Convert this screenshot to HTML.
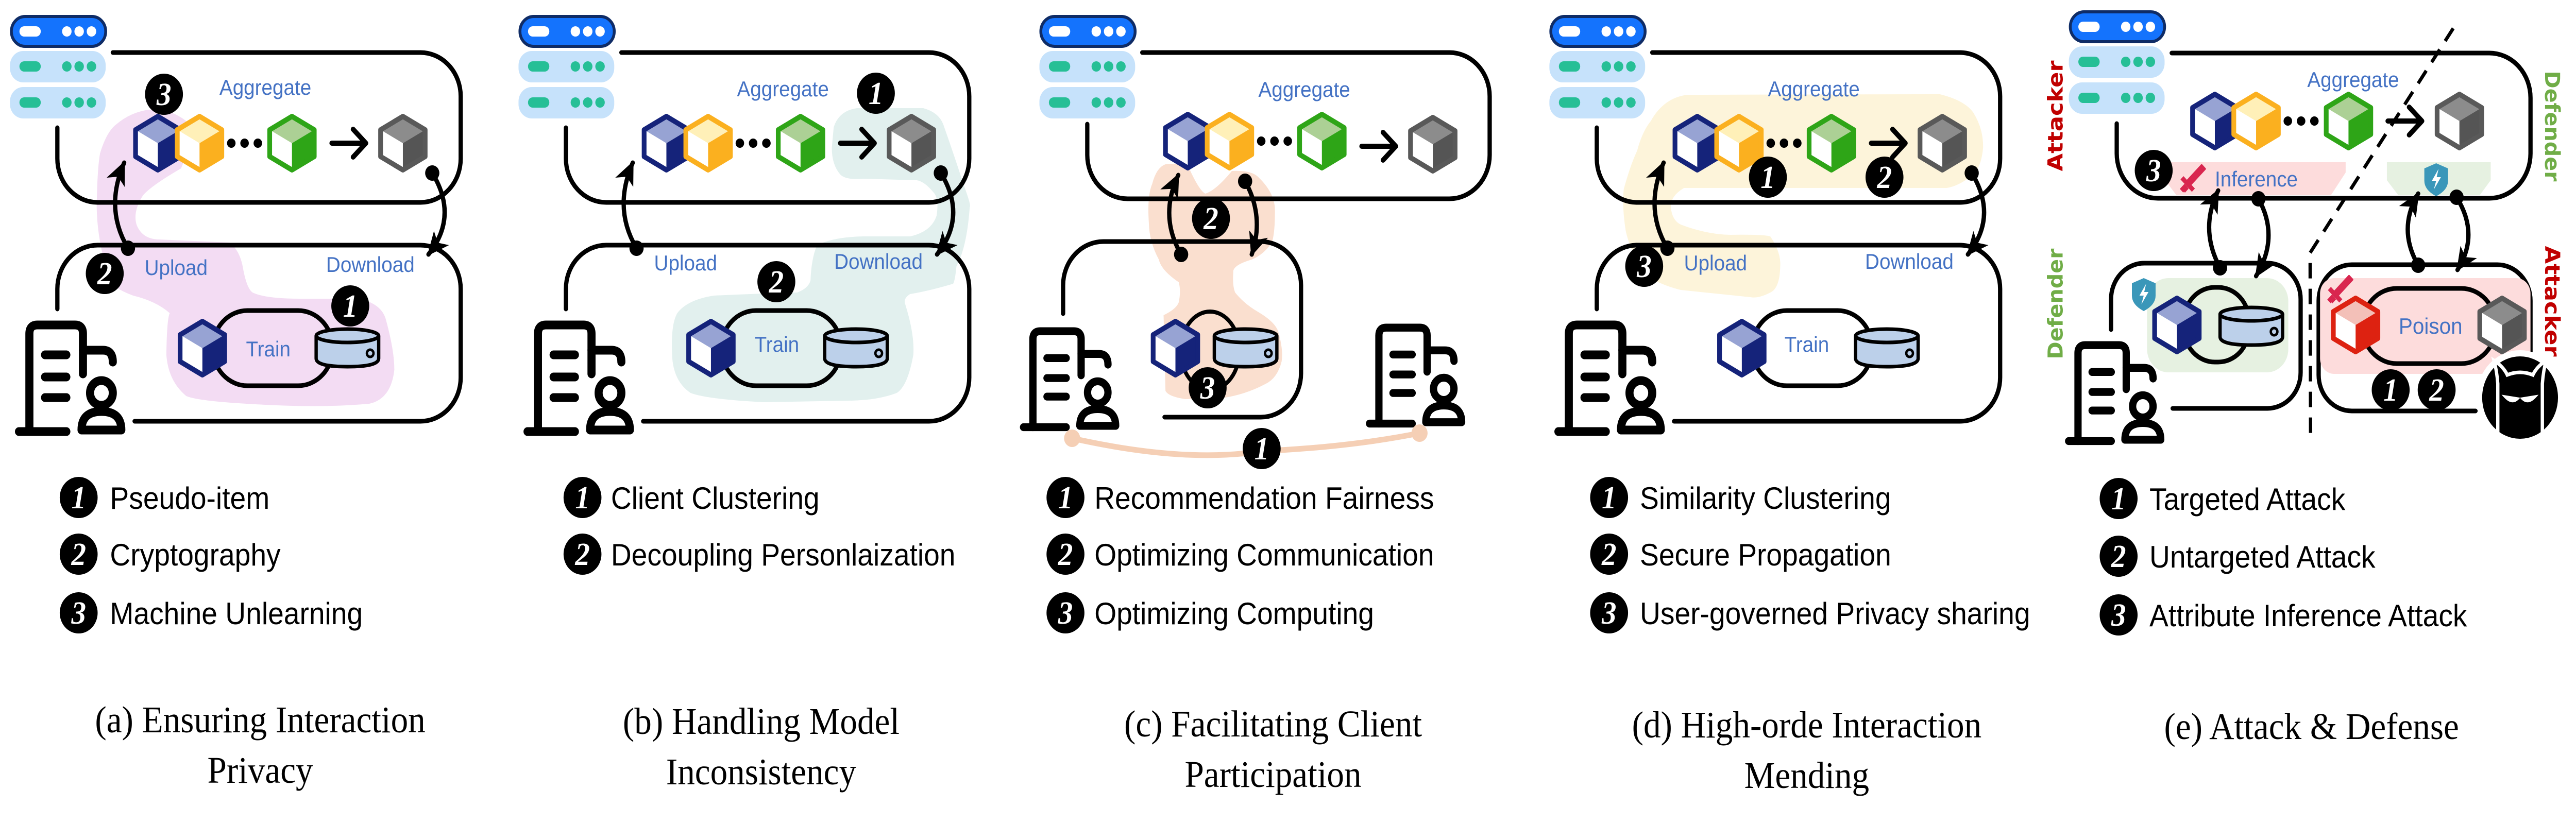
<!DOCTYPE html>
<html><head><meta charset="utf-8"><style>
html,body{margin:0;padding:0;background:#fff;width:100%;height:100%;overflow:hidden;}
svg{display:block;width:100vw;height:100vh;}
.lbl{font-family:"Liberation Sans",sans-serif;font-size:42px;fill:#4472c4;}
.leg{font-family:"Liberation Sans",sans-serif;font-size:60px;fill:#000;}
.cap{font-family:"Liberation Serif",serif;font-size:73px;fill:#000;}
.bn{font-family:"Liberation Serif",serif;font-weight:bold;font-style:italic;font-size:62px;fill:#fff;text-anchor:middle;}
.ln{fill:none;stroke:#000;stroke-width:9;stroke-linecap:round;}
</style></head><body>
<svg viewBox="0 0 5435 1600" preserveAspectRatio="none" xmlns="http://www.w3.org/2000/svg">
<defs>
<marker id="ah" markerUnits="userSpaceOnUse" markerWidth="46" markerHeight="42" viewBox="0 0 46 42" refX="42" refY="21" orient="auto">
<path d="M0,0 L46,21 L0,42 L12,21Z" fill="#000"/></marker>
<path id="hex" d="M0,-52 L47,-26 L47,26 L0,52 L-47,26 L-47,-26Z"/>
<g id="cN"><use href="#hex" fill="#fff"/><path d="M0,-52 L47,-26 L0,0 L-47,-26Z" fill="#97a3d3"/><path d="M47,-26 L47,26 L0,52 L0,0Z" fill="#15237a"/><use href="#hex" fill="none" stroke="#15237a" stroke-width="10" stroke-linejoin="round"/></g>
<g id="cO"><use href="#hex" fill="#fff"/><path d="M0,-52 L47,-26 L0,0 L-47,-26Z" fill="#fff0b8"/><path d="M47,-26 L47,26 L0,52 L0,0Z" fill="#fbb01f"/><use href="#hex" fill="none" stroke="#fbb01f" stroke-width="10" stroke-linejoin="round"/></g>
<g id="cG"><use href="#hex" fill="#fff"/><path d="M0,-52 L47,-26 L0,0 L-47,-26Z" fill="#acd095"/><path d="M47,-26 L47,26 L0,52 L0,0Z" fill="#2ea517"/><use href="#hex" fill="none" stroke="#2ea517" stroke-width="10" stroke-linejoin="round"/></g>
<g id="cY"><use href="#hex" fill="#fff"/><path d="M0,-52 L47,-26 L0,0 L-47,-26Z" fill="#8c8c8c"/><path d="M47,-26 L47,26 L0,52 L0,0Z" fill="#555"/><use href="#hex" fill="none" stroke="#595959" stroke-width="10" stroke-linejoin="round"/></g>
<g id="cR"><use href="#hex" fill="#fff"/><path d="M0,-52 L47,-26 L0,0 L-47,-26Z" fill="#f3c0b8"/><path d="M47,-26 L47,26 L0,52 L0,0Z" fill="#dd2211"/><use href="#hex" fill="none" stroke="#dd2211" stroke-width="10" stroke-linejoin="round"/></g>
<g id="srv">
<rect x="3" y="3" width="199" height="58" rx="29" fill="#1473fd" stroke="#0f2c66" stroke-width="6"/>
<rect x="20" y="22" width="45" height="20" rx="10" fill="#fff"/><circle cx="120" cy="32" r="10" fill="#fff"/><circle cx="146" cy="32" r="10" fill="#fff"/><circle cx="172" cy="32" r="10" fill="#fff"/>
<rect x="0" y="70" width="202" height="61" rx="28" fill="#c6e2fb"/>
<rect x="20" y="90" width="45" height="20" rx="10" fill="#26bf96"/><circle cx="120" cy="100" r="10" fill="#26bf96"/><circle cx="146" cy="100" r="10" fill="#26bf96"/><circle cx="172" cy="100" r="10" fill="#26bf96"/>
<rect x="0" y="140" width="202" height="61" rx="28" fill="#c6e2fb"/>
<rect x="20" y="160" width="45" height="20" rx="10" fill="#26bf96"/><circle cx="120" cy="170" r="10" fill="#26bf96"/><circle cx="146" cy="170" r="10" fill="#26bf96"/><circle cx="172" cy="170" r="10" fill="#26bf96"/>
</g>
<g id="usr" fill="none" stroke="#000" stroke-width="17" stroke-linecap="round" stroke-linejoin="round">
<path d="M27,215 L27,25 Q27,8 44,8 L123,8 Q140,8 140,25 L140,103"/>
<path d="M140,57 L182,57 Q203,57 203,80"/>
<path d="M5,215 L105,215"/>
<path d="M60,66 L105,66 M60,109 L105,109 M60,149 L105,149"/>
<circle cx="179" cy="140" r="24"/>
<path d="M137,212 Q137,176 179,176 Q221,176 221,212 Z"/>
</g>
<g id="db" stroke="#000" stroke-width="7" fill="#bcd0ea">
<path d="M4,16 L4,60 Q4,76 70,76 Q136,76 136,60 L136,16"/>
<ellipse cx="70" cy="16" rx="66" ry="13"/>
<circle cx="118" cy="50" r="7" fill="none" stroke-width="5"/>
</g>
<g id="chev"><path d="M0,0 L70,0 M45,-27 L72,0 L45,27" fill="none" stroke="#000" stroke-width="10" stroke-linecap="round" stroke-linejoin="round"/></g>
<g id="dots"><circle cx="0" cy="0" r="9"/><circle cx="28" cy="0" r="9"/><circle cx="56" cy="0" r="9"/></g>
<g id="sword" fill="#d9264f"><g transform="rotate(45)"><rect x="-7" y="-34" width="14" height="46" rx="2"/><rect x="-17" y="10" width="34" height="9"/><rect x="-5" y="19" width="10" height="14"/></g><rect x="-22" y="14" width="11" height="11" transform="rotate(45 -16 20)"/></g>
<g id="shield"><path d="M0,-30 L25,-20 L25,4 Q25,22 0,34 Q-25,22 -25,4 L-25,-20Z" fill="#3a97b9"/><path d="M5,-19 L-9,4 L0,4 L-5,21 L10,-3 L1,-3Z" fill="#fff"/></g>
</defs>

<!-- ============ PANEL A ============ -->
<path d="M302,215 Q350,205 393,235 Q400,290 382,327 Q320,360 302,379 Q280,410 288,436 Q300,465 337,465 L484,471 Q505,485 512,517 Q520,560 533,568 Q560,580 632,580 L758,580 Q805,590 814,620 Q832,680 832,718 Q825,775 779,784 Q680,792 561,786 Q420,780 393,769 Q355,740 351,689 Q352,620 358,608 Q330,585 281,574 Q240,560 232,545 Q205,470 204,402 Q205,330 211,298 Q225,255 246,241 Q270,222 302,215Z" fill="#f3dcf3"/>
<g id="baseA">
<use href="#srv" x="21" y="29"/>
<path class="ln" d="M238,102 L887,102 A85,85 0 0 1 972,187 L972,308 A85,85 0 0 1 887,393 L206,393 A85,85 0 0 1 121,308 L121,248"/>
<path class="ln" d="M121,600 L121,561 A85,85 0 0 1 206,476 L887,476 A85,85 0 0 1 972,561 L972,733 A85,85 0 0 1 887,818 L284,818"/>
<use href="#cN" x="333" y="278"/><use href="#cO" x="421" y="278"/><use href="#dots" x="488" y="278"/><use href="#cG" x="616" y="278"/>
<use href="#chev" x="700" y="278"/><use href="#cY" x="850" y="278"/>
<rect x="449" y="603" width="253" height="146" rx="73" fill="none" stroke="#000" stroke-width="9"/>
<use href="#cN" x="427" y="676"/><use href="#db" x="663" y="636"/>
<use href="#usr" x="35" y="623"/>
<circle cx="270" cy="482" r="15"/><path class="ln" d="M270,482 Q220,405 262,316" marker-end="url(#ah)"/>
<circle cx="912" cy="336" r="15"/><path class="ln" d="M912,336 Q968,420 904,494" marker-end="url(#ah)"/>
</g>
<text class="lbl" x="463" y="184">Aggregate</text>
<text class="lbl" x="305" y="534">Upload</text>
<text class="lbl" x="688" y="528">Download</text>
<text class="lbl" x="519" y="692">Train</text>
<circle cx="346" cy="183" r="40"/><text class="bn" x="346" y="204">3</text>
<circle cx="221" cy="531" r="40"/><text class="bn" x="221" y="552">2</text>
<circle cx="739" cy="594" r="40"/><text class="bn" x="739" y="615">1</text>

<!-- ============ PANEL B ============ -->
<path d="M1759,247 Q1770,215 1808,210 L1948,210 Q1980,218 1990,241 Q2020,320 2032,356 Q2050,400 2046,402 Q2040,480 2018,517 Q2015,545 2011,551 Q1960,565 1920,571 Q1905,580 1910,591 Q1930,650 1927,689 Q1915,750 1892,763 Q1850,778 1787,778 L1611,781 Q1490,775 1457,763 Q1420,740 1418,689 Q1415,630 1429,608 Q1450,582 1506,574 Q1600,570 1682,568 Q1705,560 1710,545 Q1712,500 1724,476 Q1760,460 1822,459 L1920,459 Q1965,450 1976,419 Q1982,385 1969,373 Q1950,352 1934,350 L1822,347 Q1785,350 1773,339 Q1755,320 1755,287 Z" fill="#e2f0ee"/>
<use href="#baseA" x="1073" y="0"/>
<text class="lbl" x="1555" y="187">Aggregate</text>
<text class="lbl" x="1380" y="525">Upload</text>
<text class="lbl" x="1760" y="522">Download</text>
<text class="lbl" x="1592" y="683">Train</text>
<circle cx="1848" cy="181" r="40"/><text class="bn" x="1848" y="202">1</text>
<circle cx="1638" cy="547" r="40"/><text class="bn" x="1638" y="568">2</text>

<!-- ============ PANEL C ============ -->
<path d="M2459,319 Q2495,315 2508,325 Q2530,370 2543,376 Q2565,370 2599,332 Q2640,330 2655,344 Q2690,375 2690,408 Q2690,455 2683,472 Q2665,495 2641,504 Q2600,515 2602,529 Q2600,555 2606,568 Q2625,590 2655,606 Q2690,625 2697,644 Q2708,680 2704,702 Q2695,735 2669,746 Q2630,765 2585,772 L2501,775 Q2465,770 2459,759 L2455,612 Q2482,600 2487,587 Q2492,565 2487,548 Q2450,525 2445,504 Q2425,470 2424,434 Q2420,380 2431,357 Q2440,325 2459,319Z" fill="#fadfcf"/>
<use href="#srv" x="2193" y="29"/>
<path class="ln" d="M2410,102 L3058,102 A85,85 0 0 1 3143,187 L3143,301 A85,85 0 0 1 3058,386 L2379,386 A85,85 0 0 1 2294,301 L2294,241"/>
<path class="ln" d="M2243,609 L2243,554 A85,85 0 0 1 2328,469 L2660,469 A85,85 0 0 1 2745,554 L2745,725 A85,85 0 0 1 2660,810 L2457,810"/>
<use href="#cN" x="2506" y="274"/><use href="#cO" x="2594" y="274"/><use href="#dots" x="2661" y="274"/><use href="#cG" x="2789" y="274"/>
<use href="#chev" x="2873" y="284"/><use href="#cY" x="3023" y="280"/>
<text class="lbl" x="2655" y="188">Aggregate</text>
<ellipse cx="2553" cy="681" rx="62" ry="76" fill="none" stroke="#000" stroke-width="8"/>
<use href="#cN" x="2480" y="676"/><use href="#db" x="2558" y="636"/>
<circle cx="2492" cy="494" r="15"/><path class="ln" d="M2492,494 Q2445,420 2486,340" marker-end="url(#ah)"/>
<circle cx="2627" cy="352" r="15"/><path class="ln" d="M2627,352 Q2668,420 2641,494" marker-end="url(#ah)"/>
<circle cx="2555" cy="424" r="40"/><text class="bn" x="2555" y="445">2</text>
<circle cx="2548" cy="753" r="40"/><text class="bn" x="2548" y="774">3</text>
<use href="#usr" x="2155" y="636" transform="translate(2155,636) scale(0.9) translate(-2155,-636)"/>
<use href="#usr" x="2885" y="629" transform="translate(2885,629) scale(0.9) translate(-2885,-629)"/>
<path d="M2262,851 Q2500,900 2662,876 Q2850,868 2995,841" fill="none" stroke="#f5cfb5" stroke-width="11"/>
<circle cx="2262" cy="851" r="17" fill="#f5cfb5"/><circle cx="2995" cy="841" r="17" fill="#f5cfb5"/>
<circle cx="2662" cy="871" r="40"/><text class="bn" x="2662" y="892">1</text>

<!-- ============ PANEL D ============ -->
<path d="M3483,235 Q3510,190 3560,184 L4093,183 Q4145,195 4163,218 Q4185,250 4184,287 Q4180,330 4156,344 Q4130,362 4107,365 L3553,365 Q3525,380 3525,402 Q3528,428 3546,436 Q3600,455 3651,456 Q3720,455 3735,459 Q3758,490 3756,517 Q3755,560 3735,568 Q3710,580 3693,577 L3546,563 Q3490,550 3469,528 Q3440,490 3430,448 Q3422,400 3426,367 Q3440,320 3454,293 Q3465,255 3483,235Z" fill="#fdf4da"/>
<use href="#baseA" x="3248" y="0"/>
<text class="lbl" x="3730" y="187">Aggregate</text>
<text class="lbl" x="3553" y="525">Upload</text>
<text class="lbl" x="3935" y="522">Download</text>
<text class="lbl" x="3765" y="683">Train</text>
<circle cx="3730" cy="344" r="40"/><text class="bn" x="3730" y="365">1</text>
<circle cx="3976" cy="344" r="40"/><text class="bn" x="3976" y="365">2</text>
<circle cx="3469" cy="517" r="40"/><text class="bn" x="3469" y="538">3</text>

<!-- ============ PANEL E ============ -->
<use href="#srv" x="4365" y="20"/>
<path class="ln" d="M4582,103 L5252,103 A87,87 0 0 1 5339,190 L5339,298 A87,87 0 0 1 5252,385 L4553,385 A87,87 0 0 1 4466,298 L4466,240"/>
<path d="M4568,315 L4949,315 L4949,335 L4918,379 L4592,379 L4568,350Z" fill="#fddcdc"/>
<path d="M5036,315 L5255,315 L5255,350 L5232,379 L5060,379 L5036,350Z" fill="#e6f1e1"/>
<text class="lbl" x="4868" y="169">Aggregate</text>
<use href="#cN" x="4673" y="235"/><use href="#cO" x="4760" y="235"/><use href="#dots" x="4827" y="235"/><use href="#cG" x="4955" y="235"/>
<use href="#chev" x="5038" y="235"/><use href="#cY" x="5189" y="235"/>
<circle cx="4544" cy="331" r="40"/><text class="bn" x="4544" y="352">3</text>
<use href="#sword" x="4626" y="347"/>
<text class="lbl" x="4673" y="362">Inference</text>
<use href="#shield" x="5140" y="347"/>
<path d="M5176,55 L4874,491 L4875,844" fill="none" stroke="#000" stroke-width="7" stroke-dasharray="30 20"/>
<path class="ln" d="M4454,640 L4454,581 A70,70 0 0 1 4524,511 L4784,511 A70,70 0 0 1 4854,581 L4854,723 A70,70 0 0 1 4784,793 L4584,793"/>
<rect x="4530" y="540" width="298" height="183" rx="45" fill="#e6f1e1"/>
<rect x="4608" y="558" width="137" height="145" rx="65" fill="none" stroke="#000" stroke-width="9"/>
<use href="#cN" x="4593" y="631"/><use href="#db" x="4680" y="594"/>
<use href="#shield" x="4523" y="570"/>
<use href="#usr" x="4360" y="663" transform="translate(4360,663) scale(0.9) translate(-4360,-663)"/>
<path class="ln" d="M5223,798 L4962,798 A70,70 0 0 1 4892,728 L4892,584 A70,70 0 0 1 4962,514 L5269,514 A70,70 0 0 1 5339,584 L5339,700"/>
<rect x="4895" y="540" width="444" height="186" rx="30" fill="#fddcdc"/>
<rect x="4984" y="560" width="282" height="146" rx="73" fill="none" stroke="#000" stroke-width="9"/>
<use href="#cR" x="4970" y="631"/><use href="#cY" x="5279" y="631"/>
<use href="#sword" x="4937" y="562"/>
<text class="lbl" x="5061" y="648" style="font-size:44px">Poison</text>
<circle cx="5044" cy="757" r="40"/><text class="bn" x="5044" y="778">1</text>
<circle cx="5141" cy="757" r="40"/><text class="bn" x="5141" y="778">2</text>
<circle cx="5317" cy="772" r="86" fill="#000" stroke="#fff" stroke-width="12"/>
<path d="M5270,842 L5270,745 Q5268,720 5262,700 Q5282,712 5290,728 Q5317,718 5344,728 Q5352,712 5372,700 Q5366,720 5364,745 L5364,842" fill="none" stroke="#fff" stroke-width="7"/>
<path d="M5285,770 Q5300,785 5312,774 Z M5349,770 Q5334,785 5322,774 Z" fill="#fff" stroke="#fff" stroke-width="5"/>
<circle cx="4684" cy="520" r="15"/><path class="ln" d="M4684,520 Q4640,445 4680,370" marker-end="url(#ah)"/>
<circle cx="4765" cy="386" r="15"/><path class="ln" d="M4765,386 Q4810,460 4760,536" marker-end="url(#ah)"/>
<circle cx="5102" cy="515" r="15"/><path class="ln" d="M5102,515 Q5058,445 5102,376" marker-end="url(#ah)"/>
<circle cx="5183" cy="383" r="15"/><path class="ln" d="M5183,383 Q5232,455 5185,524" marker-end="url(#ah)"/>
<g font-family="'DejaVu Sans',sans-serif" font-weight="bold" font-size="44">
<text x="0" y="0" transform="translate(4352,225) rotate(-90)" text-anchor="middle" fill="#c00000" textLength="215" lengthAdjust="spacingAndGlyphs">Attacker</text>
<text x="0" y="0" transform="translate(4352,590) rotate(-90)" text-anchor="middle" fill="#70ad47" textLength="215" lengthAdjust="spacingAndGlyphs">Defender</text>
<text x="0" y="0" transform="translate(5370,245) rotate(90)" text-anchor="middle" fill="#70ad47" textLength="215" lengthAdjust="spacingAndGlyphs">Defender</text>
<text x="0" y="0" transform="translate(5370,585) rotate(90)" text-anchor="middle" fill="#c00000" textLength="215" lengthAdjust="spacingAndGlyphs">Attacker</text>
</g>

<!-- ============ LEGENDS ============ -->
<g>
<circle cx="166" cy="966" r="40"/><text class="bn" x="166" y="987">1</text><text class="leg" x="232" y="988">Pseudo-item</text>
<circle cx="166" cy="1076" r="40"/><text class="bn" x="166" y="1097">2</text><text class="leg" x="232" y="1098">Cryptography</text>
<circle cx="166" cy="1190" r="40"/><text class="bn" x="166" y="1211">3</text><text class="leg" x="232" y="1212">Machine Unlearning</text>

<circle cx="1229" cy="966" r="40"/><text class="bn" x="1229" y="987">1</text><text class="leg" x="1289" y="988">Client Clustering</text>
<circle cx="1229" cy="1076" r="40"/><text class="bn" x="1229" y="1097">2</text><text class="leg" x="1289" y="1098">Decoupling Personlaization</text>

<circle cx="2248" cy="966" r="40"/><text class="bn" x="2248" y="987">1</text><text class="leg" x="2309" y="988">Recommendation Fairness</text>
<circle cx="2248" cy="1076" r="40"/><text class="bn" x="2248" y="1097">2</text><text class="leg" x="2309" y="1098">Optimizing Communication</text>
<circle cx="2248" cy="1190" r="40"/><text class="bn" x="2248" y="1211">3</text><text class="leg" x="2309" y="1212">Optimizing Computing</text>

<circle cx="3395" cy="966" r="40"/><text class="bn" x="3395" y="987">1</text><text class="leg" x="3460" y="988">Similarity Clustering</text>
<circle cx="3395" cy="1076" r="40"/><text class="bn" x="3395" y="1097">2</text><text class="leg" x="3460" y="1098">Secure Propagation</text>
<circle cx="3395" cy="1190" r="40"/><text class="bn" x="3395" y="1211">3</text><text class="leg" x="3460" y="1212">User-governed Privacy sharing</text>

<circle cx="4470" cy="968" r="40"/><text class="bn" x="4470" y="989">1</text><text class="leg" x="4535" y="990">Targeted Attack</text>
<circle cx="4470" cy="1080" r="40"/><text class="bn" x="4470" y="1101">2</text><text class="leg" x="4535" y="1102">Untargeted Attack</text>
<circle cx="4470" cy="1194" r="40"/><text class="bn" x="4470" y="1215">3</text><text class="leg" x="4535" y="1216">Attribute Inference Attack</text>
</g>

<!-- ============ CAPTIONS ============ -->
<g text-anchor="middle">
<text class="cap" x="549" y="1422">(a) Ensuring Interaction</text>
<text class="cap" x="549" y="1520">Privacy</text>
<text class="cap" x="1606" y="1425">(b) Handling Model</text>
<text class="cap" x="1606" y="1523">Inconsistency</text>
<text class="cap" x="2686" y="1430">(c) Facilitating Client</text>
<text class="cap" x="2686" y="1528">Participation</text>
<text class="cap" x="3812" y="1432">(d) High-orde Interaction</text>
<text class="cap" x="3812" y="1530">Mending</text>
<text class="cap" x="4877" y="1435">(e) Attack &amp; Defense</text>
</g>
</svg>
</body></html>
